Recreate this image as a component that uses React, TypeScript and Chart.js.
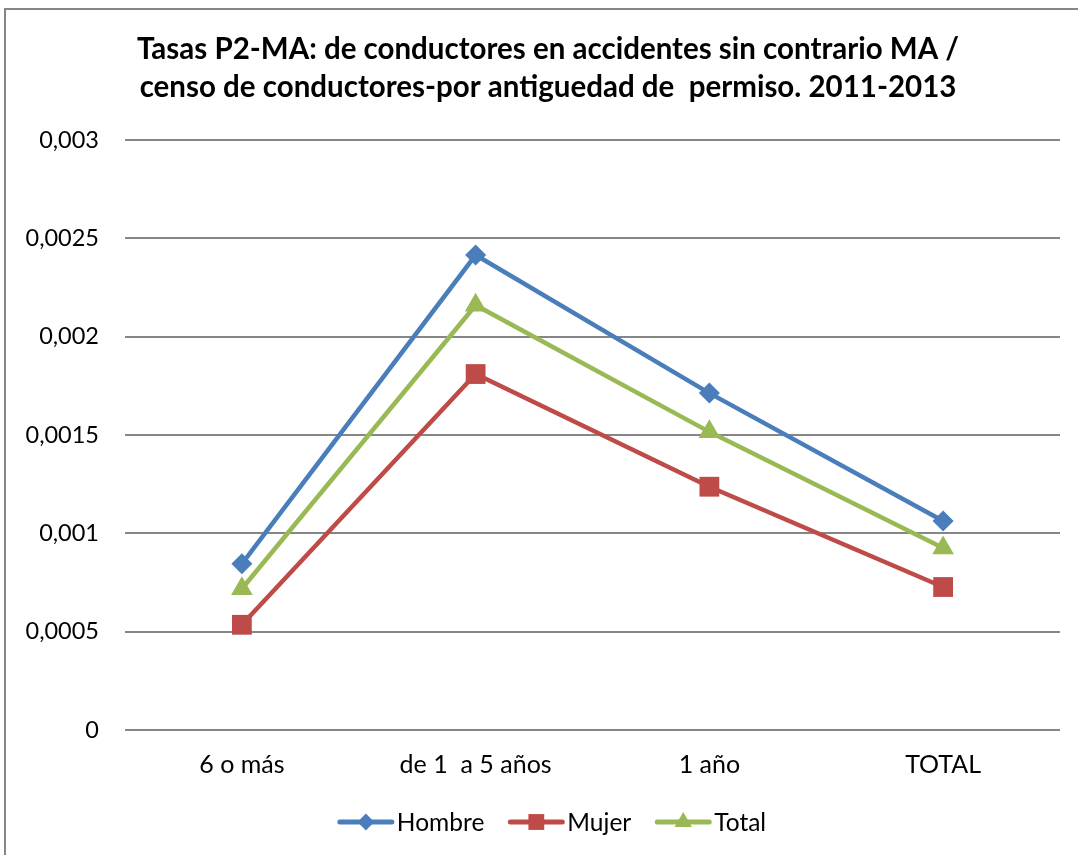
import React, { useEffect, useRef } from "react";
import { Chart, registerables } from "chart.js";

Chart.register(...registerables);

const categories = ["6 o más", "de 1  a 5 años", "1 año", "TOTAL"];
const hombre = [0.000845, 0.002415, 0.001713, 0.001063];
const mujer = [0.000535, 0.00181, 0.001237, 0.000727];
const total = [0.000718, 0.00216, 0.001516, 0.000925];
const yTickLabels = ["0", "0,0005", "0,001", "0,0015", "0,002", "0,0025", "0,003"];
const titleLines = [
  "Tasas P2-MA: de conductores en accidentes sin contrario MA /",
  "censo de conductores-por antiguedad de  permiso. 2011-2013",
];

const FONT = "Lato, 'Liberation Sans', sans-serif";

const series = [
  { label: "Hombre", data: hombre, color: "#4A7EBB", style: "rectRot", radius: 10.5 },
  { label: "Mujer", data: mujer, color: "#BE4B48", style: "rect", radius: 14 },
  { label: "Total", data: total, color: "#98B954", style: "triangle", radius: 12.5 },
];

function drawMarker(ctx: CanvasRenderingContext2D, style: string, x: number, y: number, r: number) {
  ctx.beginPath();
  if (style === "rectRot") {
    ctx.moveTo(x - r, y);
    ctx.lineTo(x, y - r);
    ctx.lineTo(x + r, y);
    ctx.lineTo(x, y + r);
  } else if (style === "rect") {
    const s = Math.SQRT1_2 * r;
    ctx.rect(x - s, y - s, 2 * s, 2 * s);
  } else {
    const a = (2 * Math.PI) / 3;
    ctx.moveTo(x, y - r);
    ctx.lineTo(x + Math.sin(a) * r, y - Math.cos(a) * r);
    ctx.lineTo(x + Math.sin(2 * a) * r, y - Math.cos(2 * a) * r);
  }
  ctx.closePath();
  ctx.fill();
}

const titlePlugin = {
  id: "customTitle",
  afterDraw(chart: any) {
    const ctx = chart.ctx;
    ctx.save();
    ctx.font = `bold 29.5px ${FONT}`;
    ctx.fillStyle = "#000";
    ctx.textAlign = "center";
    ctx.textBaseline = "middle";
    const cx = (chart.width + 18) / 2;
    titleLines.forEach((line, i) => ctx.fillText(line, cx, 49 + i * 38.5));
    ctx.restore();
  },
};

const legendPlugin = {
  id: "customLegend",
  afterDraw(chart: any) {
    const ctx = chart.ctx;
    ctx.save();
    ctx.font = `24.5px ${FONT}`;
    ctx.textBaseline = "middle";
    const lineW = 56;
    const gap = 3;
    const itemGap = 24;
    const widths = series.map((s) => lineW + gap + ctx.measureText(s.label).width);
    const totalW = widths.reduce((a, b) => a + b, 0) + itemGap * (series.length - 1);
    let x = (chart.width + 26) / 2 - totalW / 2;
    const y = 822;
    series.forEach((s, i) => {
      ctx.strokeStyle = s.color;
      ctx.lineWidth = 5;
      ctx.lineCap = "round";
      ctx.beginPath();
      ctx.moveTo(x + 2, y);
      ctx.lineTo(x + lineW - 2, y);
      ctx.stroke();
      ctx.fillStyle = s.color;
      drawMarker(ctx, s.style, x + lineW / 2, y, s.radius * 0.8);
      ctx.fillStyle = "#000";
      ctx.fillText(s.label, x + lineW + gap, y + 1);
      x += widths[i] + itemGap;
    });
    ctx.restore();
  },
};

export default function App() {
  const ref = useRef<HTMLCanvasElement>(null);
  useEffect(() => {
    if (!ref.current) return;
    const chart = new Chart(ref.current, {
      type: "line",
      data: {
        labels: categories,
        datasets: series.map((s) => ({
          label: s.label,
          data: s.data,
          borderColor: s.color,
          backgroundColor: s.color,
          borderWidth: 4.5,
          pointStyle: s.style as any,
          pointRadius: s.radius,
          pointHoverRadius: s.radius,
          pointBorderWidth: 0,
          tension: 0,
        })),
      },
      options: {
        animation: false,
        responsive: false,
        layout: { padding: { left: 0, right: 18, top: 140, bottom: 55 } },
        plugins: {
          legend: { display: false },
          tooltip: { enabled: false },
          title: { display: false },
        },
        scales: {
          x: {
            offset: true,
            grid: { display: false, drawTicks: false },
            border: { display: false },
            ticks: { color: "#000", font: { family: FONT, size: 25, lineHeight: 1.2 }, padding: 20, maxRotation: 0 },
          },
          y: {
            min: 0,
            max: 0.003,
            afterFit: (scale: any) => {
              scale.width = 125;
            },
            grid: { color: "#868686", lineWidth: 2, drawTicks: false },
            border: { display: false },
            ticks: {
              stepSize: 0.0005,
              color: "#000",
              font: { family: FONT, size: 23.5 },
              padding: 26,
              callback: (_v: any, i: number) => yTickLabels[i],
            },
          },
        },
      },
      plugins: [titlePlugin, legendPlugin],
    });
    return () => chart.destroy();
  }, []);
  return (
    <div style={{ position: "fixed", left: 0, top: 0, width: 1078, height: 855, background: "#fff" }}>
      <div
        style={{
          position: "absolute",
          left: 4,
          top: 8,
          width: 1200,
          height: 1000,
          border: "2px solid #868686",
          boxSizing: "border-box",
        }}
      />
      <canvas ref={ref} width={1078} height={855} style={{ position: "absolute", left: 0, top: 0 }} />
    </div>
  );
}
